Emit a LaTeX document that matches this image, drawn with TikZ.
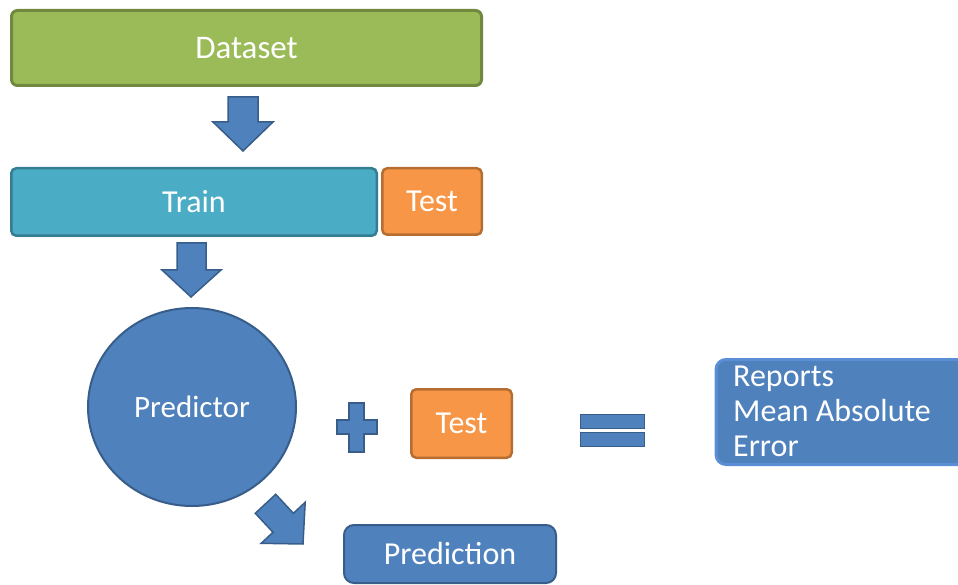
\documentclass[tikz,border=0pt]{standalone}
\usepackage{fontspec}
\setmainfont{Carlito}
\usetikzlibrary{shapes.geometric}
\definecolor{gfill}{HTML}{9BBB59}
\definecolor{gline}{HTML}{71893F}
\definecolor{cfill}{HTML}{4BACC6}
\definecolor{cline}{HTML}{357D91}
\definecolor{ofill}{HTML}{F79646}
\definecolor{oline}{HTML}{B66D31}
\definecolor{bfill}{HTML}{4F81BD}
\definecolor{bline}{HTML}{385D8A}
\definecolor{lline}{HTML}{5A8FD6}
\tikzset{
  txt/.style={text=white, font=\fontsize{32}{35}\selectfont},
  greenbox/.style={draw=gline, fill=gfill, line width=3pt, rounded corners=6pt, inner sep=0pt, txt},
  cyanbox/.style={draw=cline, fill=cfill, line width=2.5pt, rounded corners=5pt, inner sep=0pt, txt},
  orangebox/.style={draw=oline, fill=ofill, line width=2.5pt, rounded corners=5pt, inner sep=0pt, txt},
  bluebox/.style={draw=bline, fill=bfill, line width=2pt, rounded corners=10pt, inner sep=0pt, txt},
  blockshape/.style={draw=bline, fill=bfill, line width=1.5pt, line join=miter},
}
\begin{document}
\begin{tikzpicture}[x=1pt,y=-1pt]
\useasboundingbox (0,0) rectangle (958,585);
\clip (0,0) rectangle (958,585);
% boxes
\node[greenbox, minimum width=470pt, minimum height=75pt, font=\fontsize{33}{36}\selectfont] (dataset) at (246.5,48) {Dataset};
\node[cyanbox, minimum width=365.5pt, minimum height=67.5pt] (train) at (194,202) {Train};
\node[orangebox, minimum width=99.5pt, minimum height=66.5pt] (test1) at (432,201.5) {Test};
\node[ellipse, draw=bline, fill=bfill, line width=2pt, minimum width=208pt, minimum height=198pt, inner sep=0pt, txt, font=\fontsize{31}{34}\selectfont] (predictor) at (192,407) {Predictor};
\node[orangebox, minimum width=100.5pt, minimum height=68.5pt] (test2) at (461.5,423.5) {Test};
\node[bluebox, minimum width=212pt, minimum height=58pt] (prediction) at (450,554) {Prediction};
\node[draw=lline, fill=bfill, line width=3pt, rounded corners=10pt, minimum width=260pt, minimum height=105pt, inner sep=0pt] (reports) at (846,412) {};
\node[txt, align=left, anchor=north west, inner sep=0pt] (reportstext) at (733,366) {Reports\\Mean Absolute\\Error};
% block arrows
\draw[blockshape] (228,97) -- (258,97) -- (258,122) -- (273,122) -- (243,151) -- (213,122) -- (228,122) -- cycle;
\draw[blockshape] (177,243) -- (206,243) -- (206,270) -- (221,270) -- (191,297) -- (162,270) -- (177,270) -- cycle;
\draw[blockshape] (255.3,513.3) -- (275.7,494.3) -- (293.4,513.3) -- (305.2,502.3) -- (303,544) -- (261.2,543.3) -- (273,532.3) -- cycle;
% plus
\draw[blockshape] (349,403) -- (364,403) -- (364,420) -- (377,420) -- (377,434) -- (364,434) -- (364,452) -- (349,452) -- (349,434) -- (337,434) -- (337,420) -- (349,420) -- cycle;
% equals
\draw[blockshape] (580.5,414.5) rectangle (644.5,428.5);
\draw[blockshape] (580.5,432.5) rectangle (644.5,446.5);
\end{tikzpicture}
\end{document}
